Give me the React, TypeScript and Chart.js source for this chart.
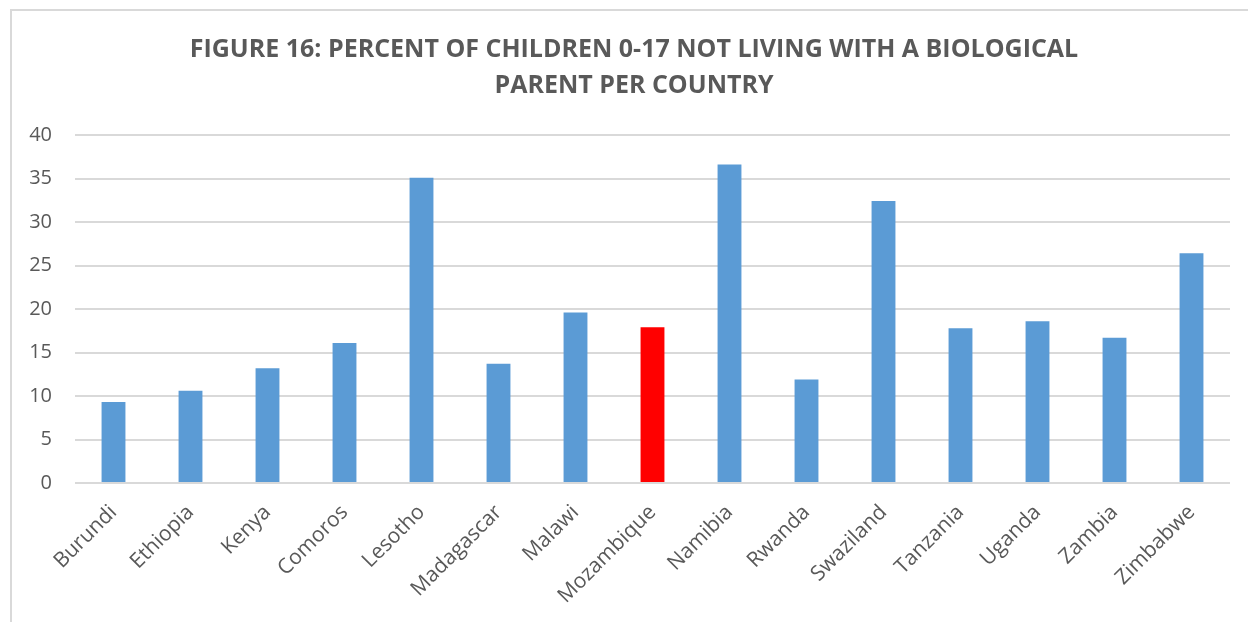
import React, { useEffect, useRef } from "react";
import { Chart, registerables } from "chart.js";

Chart.register(...registerables);

const countries = [
  "Burundi", "Ethiopia", "Kenya", "Comoros", "Lesotho", "Madagascar", "Malawi",
  "Mozambique", "Namibia", "Rwanda", "Swaziland", "Tanzania", "Uganda", "Zambia", "Zimbabwe",
];
const percentNotWithParent = [
  9.3, 10.6, 13.2, 16.1, 35.1, 13.7, 19.6, 17.9, 36.6, 11.9, 32.4, 17.8, 18.6, 16.7, 26.4,
];
const highlighted = "Mozambique";
const titleLines = [
  "FIGURE 16: PERCENT OF CHILDREN 0-17 NOT LIVING WITH A BIOLOGICAL",
  "PARENT PER COUNTRY",
];

const BLUE = "#5B9BD5";
const RED = "#FF0000";
const TEXT = "#595959";
const GRID = "#D9D9D9";
const FONT = "'Open Sans', 'Liberation Sans', sans-serif";

// Two-line heading, centred over the whole figure frame rather than the plot area.
const figureTitle = {
  id: "figureTitle",
  afterDraw(chart: any) {
    const ctx = chart.ctx;
    ctx.save();
    ctx.fillStyle = TEXT;
    ctx.font = `bold 25px ${FONT}`;
    ctx.textAlign = "center";
    ctx.textBaseline = "middle";
    titleLines.forEach((line, i) => ctx.fillText(line, 634, 50 + i * 36));
    ctx.restore();
  },
};

export default function App() {
  const canvasRef = useRef<HTMLCanvasElement | null>(null);

  useEffect(() => {
    if (!canvasRef.current) return;
    const chart = new Chart(canvasRef.current, {
      type: "bar",
      data: {
        labels: countries,
        datasets: [
          {
            data: percentNotWithParent,
            backgroundColor: countries.map((c) => (c === highlighted ? RED : BLUE)),
            categoryPercentage: 1,
            barPercentage: 0.31,
          },
        ],
      },
      plugins: [figureTitle],
      options: {
        animation: false,
        responsive: false,
        maintainAspectRatio: false,
        layout: { padding: { left: 20, right: 18, top: 135, bottom: 0 } },
        plugins: {
          legend: { display: false },
          tooltip: { enabled: false },
          title: { display: false },
        },
        scales: {
          x: {
            grid: { display: false },
            border: { display: false },
            ticks: {
              color: TEXT,
              font: { family: FONT, size: 21 },
              maxRotation: 45,
              minRotation: 45,
              autoSkip: false,
              padding: 9,
            },
            afterFit: (s: any) => {
              s.height = 139;
            },
          },
          y: {
            min: 0,
            max: 40,
            ticks: {
              stepSize: 5,
              color: TEXT,
              font: { family: FONT, size: 20 },
              padding: 23,
            },
            grid: { color: GRID, lineWidth: 2, drawTicks: false },
            border: { display: false },
            afterFit: (s: any) => {
              s.width = 55;
            },
          },
        },
      },
    });
    return () => chart.destroy();
  }, []);

  return (
    <div
      style={{
        position: "fixed",
        left: 0,
        top: 0,
        width: 1248,
        height: 622,
        background: "#fff",
        overflow: "hidden",
      }}
    >
      <div
        style={{
          position: "absolute",
          left: 10,
          top: 9,
          width: 1300,
          height: 700,
          border: "2px solid #D9D9D9",
          boxSizing: "border-box",
        }}
      />
      <canvas
        ref={canvasRef}
        width={1248}
        height={622}
        style={{ position: "absolute", left: 0, top: 0 }}
      />
    </div>
  );
}
